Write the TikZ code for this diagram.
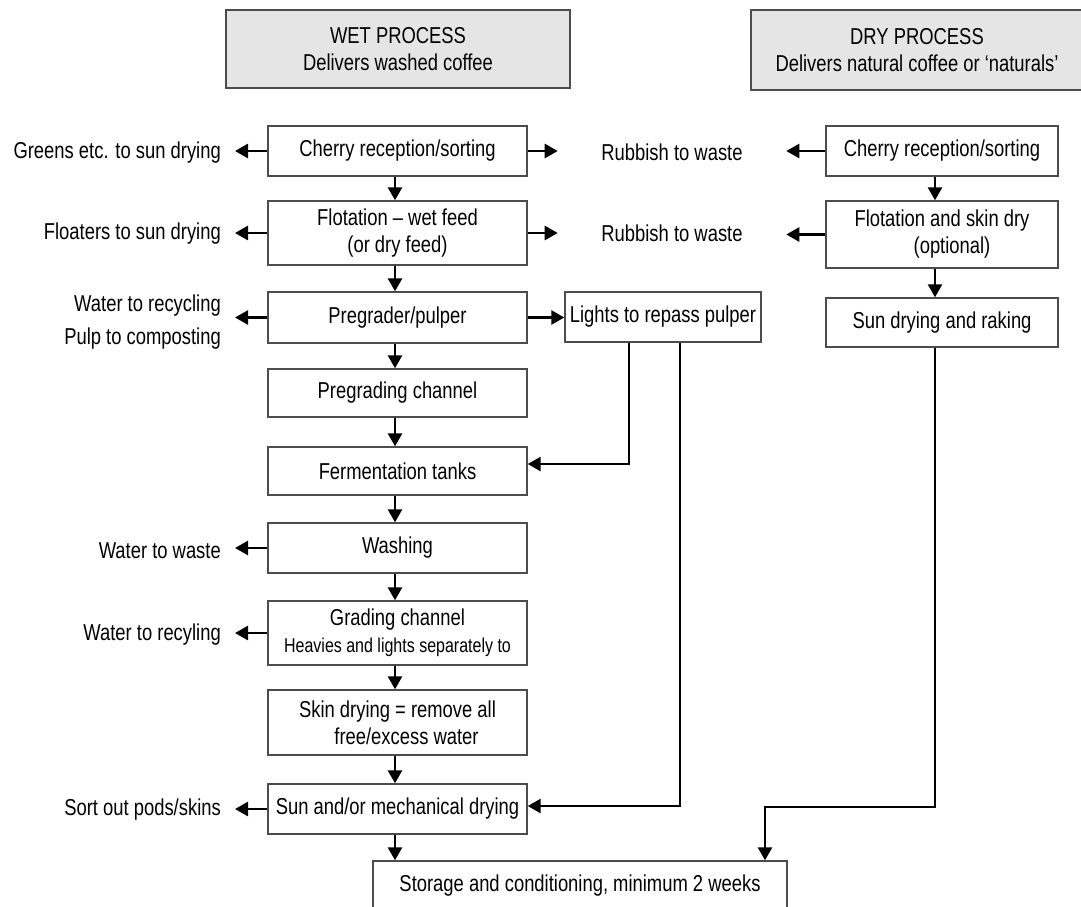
\documentclass[tikz,border=0pt]{standalone}
\usepackage{fontspec}
\setmainfont{Liberation Sans}[FakeStretch=0.80]
\usetikzlibrary{arrows.meta}
\begin{document}
\begin{tikzpicture}[x=1pt,y=-1pt,
  every node/.style={font=\fontsize{23}{27}\selectfont, align=center},
  box/.style={draw=black!70, line width=1.4pt, fill=white, minimum width=259pt, inner sep=0pt},
  hdr/.style={draw=black!70, line width=1.4pt, fill=black!10, inner sep=0pt},
  lab/.style={anchor=east, inner xsep=14pt, inner ysep=0pt, align=right},
  rub/.style={inner xsep=43.5pt, inner ysep=0pt},
  arr/.style={line width=2.6pt, -{Triangle[length=13pt,width=14pt]}},
  ln/.style={line width=2.6pt}]
\useasboundingbox (0,0) rectangle (1081,907);
% headers
\node[hdr, minimum width=344pt, minimum height=78pt] (wh) at (398,49) {WET PROCESS\\Delivers washed coffee};
\node[hdr, minimum width=332pt, minimum height=80pt] (dh) at (917,50) {DRY PROCESS\\Delivers natural coffee or `naturals'};
% wet column
\node[box, minimum height=50pt] (c1) at (397.5,151) {Cherry reception/sorting};
\node[box, minimum height=64pt] (c2) at (397.5,233) {Flotation -- wet feed\\(or dry feed)};
\node[box, minimum height=51pt] (c3) at (397.5,317.5) {Pregrader/pulper};
\node[box, minimum height=48pt] (c4) at (397.5,393) {Pregrading channel};
\node[box, minimum height=48pt] (c5) at (397.5,471) {Fermentation tanks};
\node[box, minimum height=50pt] (c6) at (397.5,548) {Washing};
\node[box, minimum height=64pt] (c7) at (397.5,633) {Grading channel\\{\fontsize{20}{24}\selectfont Heavies and lights separately to}};
\node[box, minimum height=65pt] (c8) at (397.5,722.5) {Skin drying = remove all\\\hspace*{18pt}free/excess water};
\node[box, minimum height=50pt] (c9) at (397.5,809) {Sun and/or mechanical drying};
\node[box, minimum width=414pt, minimum height=50pt] (st) at (580,886) {Storage and conditioning, minimum 2 weeks};
% right of wet column
\node[box, minimum width=196pt, minimum height=50pt] (lp) at (663,317) {Lights to repass pulper};
\node[rub] (r1) at (672,152) {Rubbish to waste};
\node[rub] (r2) at (672,233) {Rubbish to waste};
% left labels
\node[lab] (g1) at (235,153) {Greens etc. to sun drying};
\node[lab] (g2) at (235,234) {Floaters to sun drying};
\node[lab, font=\fontsize{23}{33}\selectfont] (g3) at (235,322) {Water to recycling\\Pulp to composting};
\node[lab] (g6) at (235,551) {Water to waste};
\node[lab] (g7) at (235,635) {Water to recyling};
\node[lab] (g9) at (235,810) {Sort out pods/skins};
% dry column
\node[box, minimum width=232pt, minimum height=50pt] (d1) at (942,151) {Cherry reception/sorting};
\node[box, minimum width=232pt, minimum height=67pt] (d2) at (942,234.5) {Flotation and skin dry\\\hspace*{20pt}(optional)};
\node[box, minimum width=232pt, minimum height=49pt] (d3) at (942,322.5) {Sun drying and raking};
% main flow
\foreach \a/\b in {c1/c2,c2/c3,c3/c4,c4/c5,c5/c6,c6/c7,c7/c8,c8/c9}
  \draw[arr] ([xshift=-2.5pt]\a.south) -- ([xshift=-2.5pt]\b.north);
\draw[arr] ([xshift=-2.5pt]c9.south) -- ([xshift=-2.5pt]c9.south |- st.north);
% left outputs
\draw[arr] (c1.west) -- (g1.east |- c1.west);
\draw[arr] (c2.west) -- (g2.east |- c2.west);
\draw[arr] (c3.west) -- (g3.east |- c3.west);
\draw[arr] (c6.west) -- (g6.east |- c6.west);
\draw[arr] (c7.west) -- (g7.east |- c7.west);
\draw[arr] (c9.west) -- (g9.east |- c9.west);
% right outputs
\draw[arr] (c1.east) -- (r1.west |- c1.east);
\draw[arr] (c2.east) -- (r2.west |- c2.east);
\draw[arr] (c3.east) -- (lp.west |- c3.east);
\draw[arr] (d1.west) -- (r1.east |- d1.west);
\draw[arr] (d2.west) -- (r2.east |- d2.west);
% lights recirculation
\draw[arr] ([xshift=-34pt]lp.south) |- ([yshift=7pt]c5.east);
\draw[arr] ([xshift=17pt]lp.south) |- ([yshift=3pt]c9.east);
% dry flow
\draw[arr] ([xshift=-7pt]d1.south) -- ([xshift=-7pt]d2.north);
\draw[arr] ([xshift=-7pt]d2.south) -- ([xshift=-7pt]d3.north);
\coordinate (bend) at (765,807);
\draw[arr] ([xshift=-7pt]d3.south) |- (bend) -- (bend |- st.north);
\end{tikzpicture}
\end{document}
